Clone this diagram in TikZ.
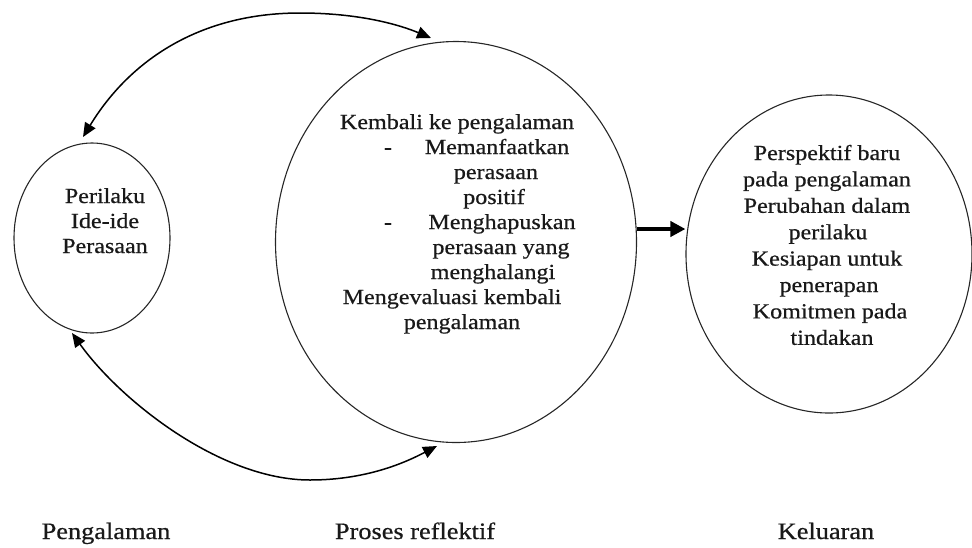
\documentclass[tikz,border=0pt]{standalone}
\usepackage{fontspec}
\setmainfont{Liberation Serif}[FakeStretch=1.12,FakeBold=0.6]
\usetikzlibrary{shapes.geometric,arrows.meta}
\begin{document}
\begin{tikzpicture}[x=1pt,y=-1pt,
  ring/.style={draw=black!85,line width=1.1pt,ellipse,inner sep=0pt},
  txt/.style={anchor=base,inner sep=0pt,font=\fontsize{21.5}{24}\selectfont,text=black!90},
  lbl/.style={anchor=base,inner sep=0pt,font=\fontsize{23.5}{26}\selectfont,text=black!90},
  loop/.style={line width=1.5pt,-{Triangle[length=14pt,width=12pt]}},
  flow/.style={line width=4.5pt,-{Triangle[length=15pt,width=15pt]}}]
\useasboundingbox (0,0) rectangle (972,547);
% circles
\node[ring,minimum width=156pt,minimum height=190pt] (L) at (92,238) {};
\node[ring,minimum width=361pt,minimum height=401pt] (M) at (456,242) {};
\node[ring,minimum width=286pt,minimum height=318pt] (R) at (829,254) {};
% left text
\node[txt] (l1) at (105,203) {Perilaku};
\node[txt] (l2) at (105,228) {Ide-ide};
\node[txt] (l3) at (105,253) {Perasaan};
% middle text
\node[txt] (m1) at (457,129) {Kembali ke pengalaman};
\node[txt] (d1) at (388,154) {-};
\node[txt] (m2) at (497,154) {Memanfaatkan};
\node[txt] (m3) at (496,179) {perasaan};
\node[txt] (m4) at (494,204) {positif};
\node[txt] (d2) at (388,229) {-};
\node[txt] (m5) at (502,229) {Menghapuskan};
\node[txt] (m6) at (501,254) {perasaan yang};
\node[txt] (m7) at (493,279) {menghalangi};
\node[txt] (m8) at (452,304) {Mengevaluasi kembali};
\node[txt] (m9) at (462,329) {pengalaman};
% right text
\node[txt] (r1) at (827,160) {Perspektif baru};
\node[txt] (r2) at (827,186.4) {pada pengalaman};
\node[txt] (r3) at (827,212.8) {Perubahan dalam};
\node[txt] (r4) at (828,239.2) {perilaku};
\node[txt] (r5) at (827,265.6) {Kesiapan untuk};
\node[txt] (r6) at (829,292) {penerapan};
\node[txt] (r7) at (830,318.4) {Komitmen pada};
\node[txt] (r8) at (832,344.8) {tindakan};
% bottom labels
\node[lbl] (b1) at (106,539) {Pengalaman};
\node[lbl] (b2) at (415,539) {Proses reflektif};
\node[lbl] (b3) at (826,539) {Keluaran};
% connectors
\coordinate (ta) at (83,137);
\coordinate (tp) at (300,13);
\coordinate (tb) at (431,38);
\coordinate (ba) at (72,333);
\coordinate (bp) at (310,480);
\coordinate (bb) at (437,446);
\draw[loop,{Triangle[length=14pt,width=12pt]}-] (ta) .. controls (130,60) and (200,13) .. (tp);
\draw[loop] (tp) .. controls (360,13) and (400,25) .. (tb);
\draw[loop,{Triangle[length=14pt,width=12pt]}-] (ba) .. controls (120,400) and (220,480) .. (bp);
\draw[loop] (bp) .. controls (370,480) and (410,460) .. (bb);
\draw[flow] (M.east |- 0,229) -- (R.west |- 0,229);
\end{tikzpicture}
\end{document}
